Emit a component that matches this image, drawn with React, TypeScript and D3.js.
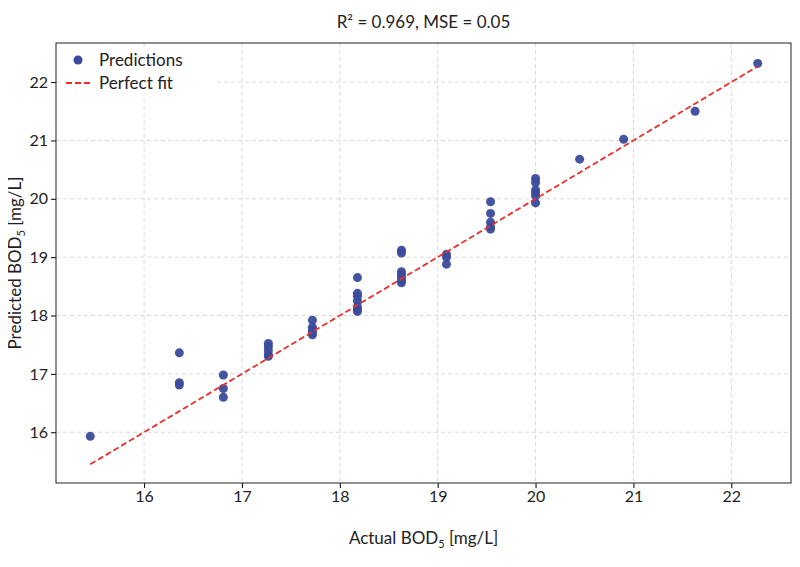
import { useEffect, useRef } from 'react'
import * as d3 from 'd3'

const actual = [
  15.45,
  16.36, 16.36, 16.36,
  16.81, 16.81, 16.81,
  17.27, 17.27, 17.27, 17.27, 17.27,
  17.72, 17.72, 17.72, 17.72, 17.72,
  18.18, 18.18, 18.18, 18.18, 18.18, 18.18, 18.18,
  18.63, 18.63, 18.63, 18.63, 18.63, 18.63, 18.63,
  19.09, 19.09, 19.09,
  19.54, 19.54, 19.54, 19.54, 19.54,
  20.0, 20.0, 20.0, 20.0, 20.0, 20.0,
  20.45, 20.9, 21.63, 22.27,
]
const predicted = [
  15.93,
  17.36, 16.85, 16.81,
  16.98, 16.75, 16.6,
  17.52, 17.47, 17.4, 17.33, 17.3,
  17.92, 17.8, 17.75, 17.7, 17.67,
  18.65, 18.38, 18.33, 18.25, 18.15, 18.1, 18.07,
  19.12, 19.07, 18.75, 18.7, 18.65, 18.6, 18.56,
  19.05, 19.0, 18.88,
  19.95, 19.75, 19.6, 19.52, 19.48,
  20.35, 20.28, 20.15, 20.1, 20.05, 19.93,
  20.68, 21.02, 21.5, 22.32,
]
const xTicks = [16, 17, 18, 19, 20, 21, 22]
const yTicks = [16, 17, 18, 19, 20, 21, 22]
const fitRange = [15.45, 22.27]

const font = 'Lato, "Noto Sans", sans-serif'
const dotColor = '#3a4b9c'

export default function App() {
  const svgRef = useRef<SVGSVGElement>(null)

  useEffect(() => {
    const svg = d3.select(svgRef.current)
    svg.selectAll('*').remove()
    const margin = { top: 43, right: 9, bottom: 84, left: 56 }
    const width = 800 - margin.left - margin.right
    const height = 567 - margin.top - margin.bottom

    const x = d3.scaleLinear().domain([15.1, 22.61]).range([0, width])
    const y = d3.scaleLinear().domain([15.13, 22.67]).range([height, 0])

    const g = svg.append('g').attr('transform', `translate(${margin.left},${margin.top})`)

    // grid
    xTicks.forEach(t => {
      g.append('line').attr('x1', x(t)).attr('x2', x(t)).attr('y1', 0).attr('y2', height)
        .attr('stroke', '#d9d9d9').attr('stroke-dasharray', '4,3')
    })
    yTicks.forEach(t => {
      g.append('line').attr('x1', 0).attr('x2', width).attr('y1', y(t)).attr('y2', y(t))
        .attr('stroke', '#d9d9d9').attr('stroke-dasharray', '4,3')
    })

    // points
    actual.forEach((a, i) => {
      g.append('circle').attr('cx', x(a)).attr('cy', y(predicted[i])).attr('r', 4.5)
        .attr('fill', dotColor).attr('fill-opacity', 0.95)
    })

    // perfect fit
    g.append('line')
      .attr('x1', x(fitRange[0])).attr('y1', y(fitRange[0]))
      .attr('x2', x(fitRange[1])).attr('y2', y(fitRange[1]))
      .attr('stroke', '#e8302c').attr('stroke-width', 1.8).attr('stroke-dasharray', '6,3')

    // axes
    const xa = g.append('g').attr('transform', `translate(0,${height})`)
      .call(d3.axisBottom(x).tickValues(xTicks).tickSize(5).tickFormat(d3.format('d')))
    const ya = g.append('g').call(d3.axisLeft(y).tickValues(yTicks).tickSize(5).tickFormat(d3.format('d')))
    ;[xa, ya].forEach(a => {
      a.selectAll('text').style('font-size', '16px').style('font-family', font).attr('fill', '#222')
      a.select('.domain').remove()
    })
    g.append('rect').attr('width', width).attr('height', height)
      .attr('fill', 'none').attr('stroke', '#222').attr('stroke-width', 1)

    // legend
    const lg = g.append('g').attr('transform', 'translate(6,4)')
    lg.append('rect').attr('width', 154).attr('height', 52).attr('rx', 3)
      .attr('fill', 'white').attr('fill-opacity', 0.85)
    lg.append('circle').attr('cx', 16).attr('cy', 13).attr('r', 4.5).attr('fill', dotColor)
    lg.append('text').attr('x', 37).attr('y', 19).text('Predictions')
      .style('font-size', '17px').style('font-family', font).attr('fill', '#222')
    lg.append('line').attr('x1', 4).attr('x2', 30).attr('y1', 36).attr('y2', 36)
      .attr('stroke', '#e8302c').attr('stroke-width', 1.8).attr('stroke-dasharray', '6,3')
    lg.append('text').attr('x', 37).attr('y', 42).text('Perfect fit')
      .style('font-size', '17px').style('font-family', font).attr('fill', '#222')

    // title and labels
    svg.append('text').attr('x', margin.left + width / 2).attr('y', 28).attr('text-anchor', 'middle')
      .style('font-size', '17px').style('font-family', font).attr('fill', '#222')
      .text('R² = 0.969, MSE = 0.05')

    const xl = svg.append('text').attr('x', margin.left + width / 2).attr('y', 544)
      .attr('text-anchor', 'middle').style('font-size', '17px').style('font-family', font).attr('fill', '#222')
    xl.append('tspan').text('Actual BOD')
    xl.append('tspan').attr('dy', 4).style('font-size', '11px').text('5')
    xl.append('tspan').attr('dy', -4).text(' [mg/L]')

    const yl = svg.append('text').attr('transform', `translate(21,${margin.top + height / 2}) rotate(-90)`)
      .attr('text-anchor', 'middle').style('font-size', '17px').style('font-family', font).attr('fill', '#222')
    yl.append('tspan').text('Predicted BOD')
    yl.append('tspan').attr('dy', 4).style('font-size', '11px').text('5')
    yl.append('tspan').attr('dy', -4).text(' [mg/L]')
  }, [])

  return <svg ref={svgRef} width={800} height={567} style={{ display: 'block', margin: -8 }} />
}
